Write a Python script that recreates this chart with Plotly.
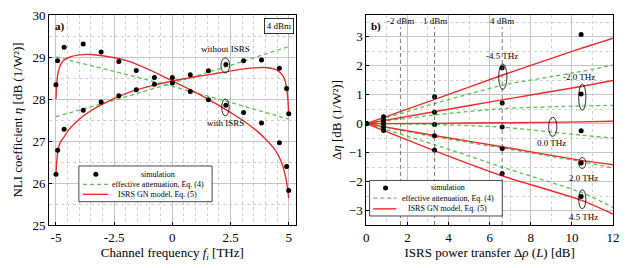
import plotly.graph_objects as go

# ---------------- data: panel a) ----------------
freq_thz = [-5.0, -4.93, -4.65, -3.83, -3.06, -2.3, -1.55, -0.77, 0.0,
            0.77, 1.55, 2.3, 3.06, 3.83, 4.6, 4.91, 5.0]
eta_sim_with = [28.34, 28.91, 29.23, 29.31, 29.12, 28.89, 28.68, 28.51, 28.38,
                28.18, 27.98, 27.85, 27.68, 27.43, 26.96, 26.39, 25.82]
eta_sim_without = [26.21, 26.78, 27.28, 27.73, 27.93, 28.08, 28.22, 28.35, 28.51,
                   28.58, 28.67, 28.82, 28.91, 28.93, 28.73, 28.25, 27.65]

model_freq = [-5.0, -4.97, -4.9, -4.8, -4.65, -4.4, -4.0, -3.5, -3.0, -2.0, -1.0, 0.0,
              1.0, 2.0, 3.0, 3.5, 4.0, 4.4, 4.65, 4.8, 4.9, 4.97, 5.0]
eta_model_with = [28.0, 28.35, 28.65, 28.82, 28.93, 29.0, 29.05, 29.06, 29.03, 28.92, 28.7, 28.43,
                  28.16, 27.85, 27.5, 27.3, 27.05, 26.8, 26.55, 26.3, 26.05, 25.8, 25.64]
eta_model_without = [26.2, 26.5, 26.82, 26.98, 27.1, 27.3, 27.52, 27.72, 27.88, 28.13, 28.3, 28.43,
                     28.53, 28.62, 28.71, 28.74, 28.75, 28.71, 28.62, 28.5, 28.3, 27.95, 27.6]

eff_freq = [-5.0, -2.5, 0.0, 2.5, 5.0]
eta_eff_with = [29.0, 28.66, 28.3, 27.92, 27.52]
eta_eff_without = [27.58, 27.97, 28.38, 28.8, 29.25]

# ---------------- data: panel b) ----------------
channel_labels = ["-4.5 THz", "-2.0 THz", "0.0 THz", "2.0 THz", "4.5 THz"]
transfer_sim = [0.0, 0.84, 3.32, 6.61, 10.45]
deta_sim = [
    [0.0, 0.24, 0.93, 1.93, 3.08],
    [0.0, 0.11, 0.39, 0.71, 1.02],
    [0.0, 0.0, -0.03, -0.12, -0.25],
    [0.0, -0.12, -0.42, -0.86, -1.36],
    [0.0, -0.24, -0.91, -1.72, -2.52],
]
transfer_model = [0.0, 3.3, 6.6, 10.45, 12.0]
deta_gn = [
    [0.0, 0.83, 1.67, 2.6, 2.95],
    [0.0, 0.41, 0.82, 1.28, 1.49],
    [0.0, 0.01, 0.03, 0.06, 0.08],
    [0.0, -0.41, -0.8, -1.27, -1.42],
    [0.0, -0.93, -1.8, -2.64, -3.12],
]
deta_eff = [
    [0.0, 0.69, 1.32, 1.8, 2.02],
    [0.0, 0.3, 0.52, 0.61, 0.63],
    [0.0, -0.03, -0.12, -0.4, -0.5],
    [0.0, -0.45, -0.84, -1.31, -1.53],
    [0.0, -0.72, -1.5, -2.37, -2.89],
]
launch_power_labels = ["-2 dBm", "1 dBm", "4 dBm"]
launch_power_transfer = [1.66, 3.32, 6.61]

# ---------------- style ----------------
RED = "#ec2b2b"
GREEN = "#5fbf55"
FONT = "Liberation Serif"

fig = go.Figure()

# panel a
for y in (eta_eff_with, eta_eff_without):
    fig.add_trace(go.Scatter(x=eff_freq, y=y, mode="lines", xaxis="x", yaxis="y",
                             line=dict(color=GREEN, width=1.3, dash="4px,3px"), showlegend=False))
for y in (eta_model_with, eta_model_without):
    fig.add_trace(go.Scatter(x=model_freq, y=y, mode="lines", xaxis="x", yaxis="y",
                             line=dict(color=RED, width=1.4, shape="spline", smoothing=0.6),
                             showlegend=False))
for y in (eta_sim_with, eta_sim_without):
    fig.add_trace(go.Scatter(x=freq_thz, y=y, mode="markers", xaxis="x", yaxis="y",
                             marker=dict(color="black", size=5), showlegend=False))

# panel b
for y in deta_eff:
    fig.add_trace(go.Scatter(x=transfer_model, y=y, mode="lines", xaxis="x2", yaxis="y2",
                             line=dict(color=GREEN, width=1.3, dash="4px,3px", shape="spline",
                                       smoothing=0.5), showlegend=False))
for y in deta_gn:
    fig.add_trace(go.Scatter(x=transfer_model, y=y, mode="lines", xaxis="x2", yaxis="y2",
                             line=dict(color=RED, width=1.4, shape="spline", smoothing=0.5),
                             showlegend=False))
for y in deta_sim:
    fig.add_trace(go.Scatter(x=transfer_sim, y=y, mode="markers", xaxis="x2", yaxis="y2",
                             marker=dict(color="black", size=5), showlegend=False))

shapes = []
annotations = []

# vertical launch power markers
for xv, lab in zip(launch_power_transfer, launch_power_labels):
    shapes.append(dict(type="line", xref="x2", yref="y2", x0=xv, x1=xv, y0=-3.5, y1=3.33,
                       line=dict(color="#555555", width=0.8, dash="4px,3px"), layer="above"))
    annotations.append(dict(text=lab, xref="x2", yref="y2", x=xv, y=3.53, showarrow=False,
                            font=dict(family=FONT, size=9, color="black")))

# ellipses panel a
for (x0, x1, y0, y1) in [(2.09, 2.46, 28.62, 28.98), (2.12, 2.44, 27.6, 28.0)]:
    shapes.append(dict(type="circle", xref="x", yref="y", x0=x0, x1=x1, y0=y0, y1=y1,
                       line=dict(color="black", width=0.8)))
annotations.append(dict(text="without ISRS", xref="x", yref="y", x=2.28, y=29.2, showarrow=False,
                        font=dict(family=FONT, size=9, color="black")))
annotations.append(dict(text="with ISRS", xref="x", yref="y", x=2.28, y=27.43, showarrow=False,
                        font=dict(family=FONT, size=9, color="black")))

# ellipses panel b
ellipses_b = [(6.44, 6.84, 1.18, 2.06), (10.33, 10.68, 0.46, 1.37), (8.87, 9.27, -0.44, 0.22),
              (10.33, 10.68, -1.55, -1.17), (10.33, 10.68, -2.94, -2.28)]
for (x0, x1, y0, y1) in ellipses_b:
    shapes.append(dict(type="circle", xref="x2", yref="y2", x0=x0, x1=x1, y0=y0, y1=y1,
                       line=dict(color="black", width=0.8)))
label_pos_b = [(6.6, 2.33), (10.34, 1.62), (9.03, -0.68), (10.58, -1.89), (10.58, -3.24)]
for lab, (xv, yv) in zip(channel_labels, label_pos_b):
    annotations.append(dict(text=lab, xref="x2", yref="y2", x=xv, y=yv, showarrow=False,
                            font=dict(family=FONT, size=9, color="black")))

# panel tags
annotations.append(dict(text="<b>a)</b>", xref="x domain", yref="y domain", x=0.015, y=0.985,
                        xanchor="left", yanchor="top", showarrow=False,
                        font=dict(family=FONT, size=11, color="black")))
annotations.append(dict(text="<b>b)</b>", xref="x2 domain", yref="y2 domain", x=0.01, y=0.985,
                        xanchor="left", yanchor="top", showarrow=False,
                        font=dict(family=FONT, size=11, color="black")))
annotations.append(dict(text="4 dBm", xref="x domain", yref="y domain", x=0.995, y=0.985,
                        xanchor="right", yanchor="top", showarrow=False, bordercolor="black",
                        borderwidth=0.8, borderpad=2, bgcolor="white",
                        font=dict(family=FONT, size=9, color="black")))


# manual legends
def add_legend(xr, yr, bx0, bx1, by0, by1, line_x0, line_x1, dot_x, text_x, rows):
    shapes.append(dict(type="rect", xref=xr, yref=yr, x0=bx0, x1=bx1, y0=by0, y1=by1,
                       fillcolor="white", line=dict(color="#333333", width=0.9), layer="above"))
    shapes.append(dict(type="circle", xref=xr, yref=yr, xsizemode="pixel", ysizemode="pixel",
                       xanchor=dot_x, yanchor=rows[0], x0=-2.5, x1=2.5, y0=-2.5, y1=2.5,
                       fillcolor="black", line=dict(color="black", width=0), layer="above"))
    shapes.append(dict(type="line", xref=xr, yref=yr, x0=line_x0, x1=line_x1, y0=rows[1], y1=rows[1],
                       line=dict(color=GREEN, width=1.3, dash="4px,3px"), layer="above"))
    shapes.append(dict(type="line", xref=xr, yref=yr, x0=line_x0, x1=line_x1, y0=rows[2], y1=rows[2],
                       line=dict(color=RED, width=1.4), layer="above"))
    for txt, yv in zip(["simulation", "effective attenuation, Eq. (4)", "ISRS GN model, Eq. (5)"], rows):
        annotations.append(dict(text=txt, xref=xr, yref=yr, x=text_x, y=yv, showarrow=False,
                                xanchor="center", yanchor="middle",
                                font=dict(family=FONT, size=8, color="black")))


add_legend("x domain", "y domain", 0.121, 0.661, 0.111, 0.281, 0.138, 0.239, 0.19, 0.4415,
           [0.242, 0.1935, 0.146])
add_legend("x2 domain", "y2 domain", 0.0133, 0.551, 0.043, 0.212, 0.028, 0.122, 0.078, 0.331,
           [0.1765, 0.1276, 0.077])

axis_common = dict(showline=True, mirror=True, linecolor="black", linewidth=1,
                   ticks="inside", ticklen=3, tickcolor="black", zeroline=False,
                   showgrid=True, gridcolor="#c4c4c4", gridwidth=0.8,
                   tickfont=dict(family=FONT, size=13, color="black"))

fig.update_layout(
    width=628, height=268,
    margin=dict(l=49, r=12, t=8, b=43),
    paper_bgcolor="white", plot_bgcolor="white",
    showlegend=False,
    shapes=shapes, annotations=annotations,
    xaxis=dict(domain=[0, 0.4374], range=[-5.3, 5.3], tickvals=[-5, -2.5, 0, 2.5, 5],
               ticktext=["-5", "-2.5", "0", "2.5", "5"],
               minor=dict(dtick=0.5, tick0=0, showgrid=True, griddash="dot", gridcolor="#cfcfcf",
                          gridwidth=0.8),
               title=dict(text="Channel frequency <i>f<sub>i</sub></i> [THz]", standoff=4,
                          font=dict(family=FONT, size=13, color="black")),
               anchor="y", **axis_common),
    yaxis=dict(domain=[0, 1], range=[25, 30], tickvals=[25, 26, 27, 28, 29, 30],
               minor=dict(dtick=0.5, tick0=0, showgrid=True, griddash="dot", gridcolor="#cfcfcf",
                          gridwidth=0.8),
               title=dict(text="NLI coefficient <i>η</i> [dB (1/W²)]", standoff=6,
                          font=dict(family=FONT, size=13, color="black")),
               anchor="x", **axis_common),
    xaxis2=dict(domain=[0.5626, 1], range=[0, 12], tickvals=[0, 2, 4, 6, 8, 10, 12],
                minor=dict(dtick=1, tick0=0, showgrid=True, griddash="dot", gridcolor="#cfcfcf",
                           gridwidth=0.8),
                title=dict(text="ISRS power transfer Δ<i>ρ</i> (<i>L</i>) [dB]", standoff=4,
                           font=dict(family=FONT, size=13, color="black")),
                anchor="y2", **axis_common),
    yaxis2=dict(domain=[0, 1], range=[-3.5, 3.75], tickvals=[-3, -2, -1, 0, 1, 2, 3],
                ticktext=["−3", "−2", "−1", "0", "1", "2", "3"],
                minor=dict(dtick=0.5, tick0=0, showgrid=True, griddash="dot", gridcolor="#cfcfcf",
                           gridwidth=0.8),
                title=dict(text="Δ<i>η</i> [dB (1/W²)]", standoff=4,
                           font=dict(family=FONT, size=13, color="black")),
                anchor="x2", **axis_common),
)

fig.write_html("out.html", config={"displayModeBar": False},
               post_script="document.body.style.margin='0';document.body.style.padding='0';")
